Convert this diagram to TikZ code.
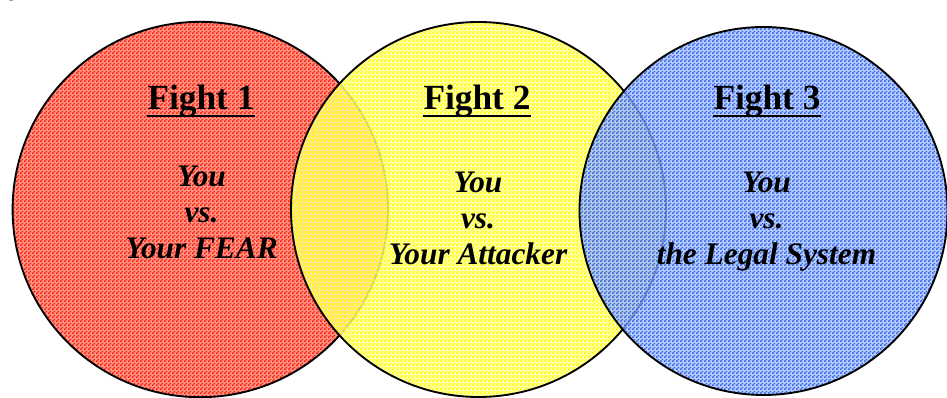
\documentclass[tikz,border=0pt]{standalone}
\usepackage{fontspec}
\setmainfont{Liberation Serif}
\usetikzlibrary{patterns}

% fine two-colour halftone used for the disc fills
\pgfdeclarepatternformonly{halftone}{\pgfpointorigin}{\pgfqpoint{3pt}{3pt}}{\pgfqpoint{3pt}{3pt}}{%
  \pgfpathrectangle{\pgfpointorigin}{\pgfqpoint{1.5pt}{1.5pt}}%
  \pgfpathrectangle{\pgfqpoint{1.5pt}{1.5pt}}{\pgfqpoint{1.5pt}{1.5pt}}%
  \pgfusepath{fill}}

\definecolor{redcell}{RGB}{255,30,10}
\definecolor{redbase}{RGB}{255,150,135}
\definecolor{yellowcell}{RGB}{255,255,0}
\definecolor{yellowbase}{RGB}{255,255,150}
\definecolor{bluecell}{RGB}{50,100,240}
\definecolor{bluebase}{RGB}{160,188,250}

\begin{document}
\begin{tikzpicture}[x=0.75pt,y=-0.75pt,
  rim/.style={draw=black,line width=1.4pt},
  title/.style={font=\fontsize{26.5}{30}\selectfont\bfseries,anchor=base,inner sep=0pt},
  phrase/.style={font=\fontsize{23.5}{28}\selectfont\bfseries\itshape,anchor=base,inner sep=0pt},
  rule/.style={line width=2pt}]
\useasboundingbox (0,0) rectangle (947,398);

% descender of a line of text running above the frame
\node[font=\fontsize{12}{14}\selectfont,anchor=base,inner sep=0pt] (above) at (11.5,-2) {g};

% Fight 1 disc
\fill[redbase] (200.3,209.5) circle[radius=187.7];
\fill[pattern=halftone,pattern color=redcell] (200.3,209.5) circle[radius=187.7];
\draw[rim] (200.3,209.5) circle[radius=187.7];

% Fight 2 disc, partly see-through over the first
\fill[yellowbase,fill opacity=0.8] (478.5,209.5) circle[radius=187.5];
\fill[pattern=halftone,pattern color=yellowcell] (478.5,209.5) circle[radius=187.5];
\draw[rim] (478.5,209.5) circle[radius=187.5];

% Fight 3 disc, partly see-through over the second
\fill[bluebase,fill opacity=0.75] (763.5,211) circle[radius=184];
\fill[pattern=halftone,pattern color=bluecell] (763.5,211) circle[radius=184];
\draw[rim] (763.5,211) circle[radius=184];

% titles
\node[title] (t1) at (201,110) {Fight 1};
\node[title] (t2) at (477,110) {Fight 2};
\node[title] (t3) at (767,110) {Fight 3};
\foreach \t in {t1,t2,t3}
  \draw[rule] ([yshift=-4.5pt]\t.base west) -- ([yshift=-4.5pt]\t.base east);

% opponents
\node[phrase] (a1) at (201.5,187) {You};
\node[phrase] (b1) at (201.5,223) {vs.};
\node[phrase] (c1) at (201.5,259) {Your FEAR};

\node[phrase] (a2) at (478,193) {You};
\node[phrase] (b2) at (478,229) {vs.};
\node[phrase] (c2) at (478,265) {Your Attacker};

\node[phrase] (a3) at (766.5,193) {You};
\node[phrase] (b3) at (766.5,229) {vs.};
\node[phrase] (c3) at (766.5,265) {the Legal System};
\end{tikzpicture}
\end{document}
